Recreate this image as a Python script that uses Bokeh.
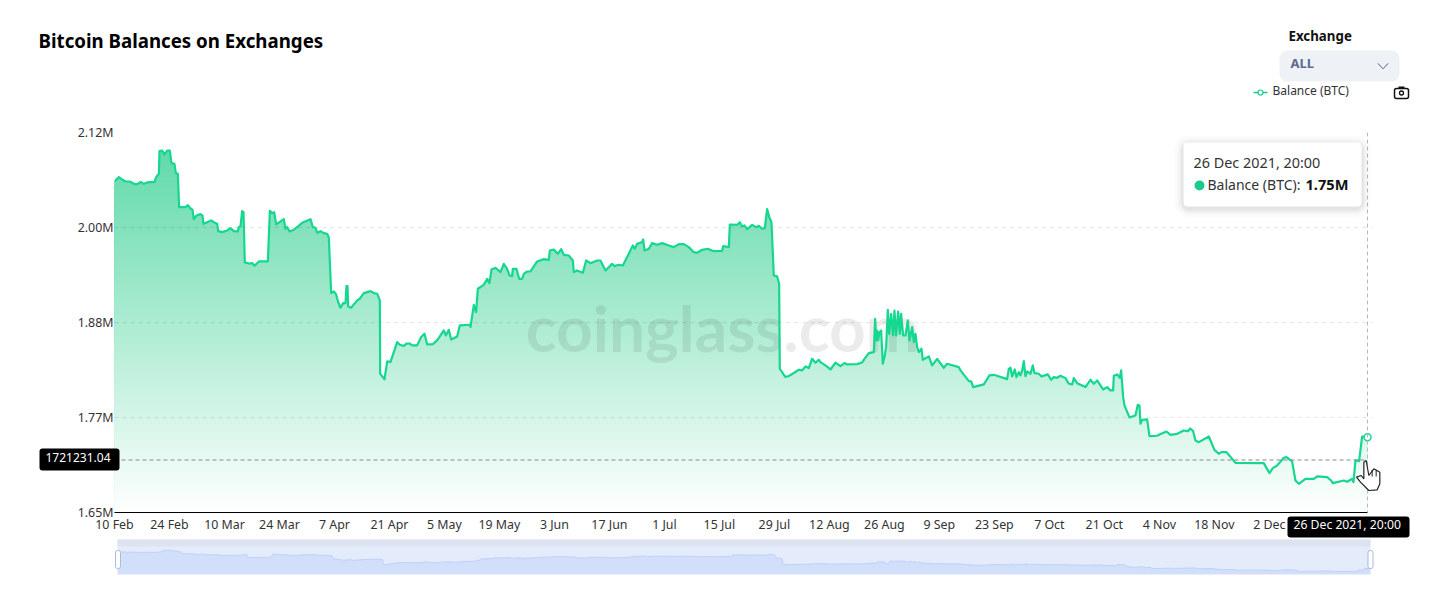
import numpy as np
from bokeh.plotting import figure
from bokeh.layouts import column
from bokeh.models import BoxAnnotation, FixedTicker, Label, PolyAnnotation, Range1d, Span
from bokeh.embed import file_html
from bokeh.resources import INLINE

# days since 10 Feb 2021
days = [0,1.1,1.95,2.8,3.9,5.18,5.94,6.62,7.47,8.32,10.18,10.61,11.29,11.46,12.14,12.73,13.41,14.09,14.51,15.27,15.61,16.12,16.46,18.08,18.67,19.35,19.86,20.2,20.88,21.89,22.4,22.66,24.61,25.71,26.14,26.39,27.41,28.68,29.53,30.38,31.4,31.65,32.08,32.5,32.84,33.18,34.2,35.05,35.64,36.74,39.04,39.55,40.14,
40.65,41.16,43.11,43.53,43.96,44.55,45.65,47.78,49.9,50.49,51.17,51.6,52.44,53.29,54.14,54.57,55.16,55.84,56.43,56.94,57.54,58.21,58.81,59.06,59.32,59.49,60.25,60.93,61.78,62.46,63.48,65.17,66.02,66.87,67.55,67.63,68.74,69.42,70.26,71.96,72.56,73.66,74.34,75.19,75.78,77.05,78.07,78.92,79.6,80.45,
81.04,82.14,83.84,84.35,85.11,85.71,87.23,87.91,90.46,90.63,91.48,92.07,92.5,94.02,94.87,95.47,95.98,97.0,98.27,99.11,99.96,100.56,101.24,101.41,102.34,103.02,103.78,104.21,105.06,105.9,107.6,109.3,110.57,110.83,111.84,112.86,113.71,114.39,115.66,116.68,116.94,117.78,119.23,120.08,121.18,122.88,123.72,125.0,126.69,127.29,128.39,129.41,130.51,131.96,132.47,133.06,134.33,134.59,134.93,136.03,136.88,138.15,139.42,141.12,142.39,143.67,144.94,146.21,147.49,148.33,149.61,151.05,152.41,154.7,154.95,156.4,156.65,158.52,159.2,159.79,160.38,161.06,162.34,163.35,164.03,164.88,165.56,166.15,166.75,167.26,167.85,168.7,169.21,169.38,170.82,171.67,172.95,174.22,175.07,175.91,176.76,177.61,178.46,179.31,
179.73,181.0,182.28,183.55,184.83,185.84,186.52,189.07,190.34,190.94,192.04,193.31,193.65,193.91,194.16,194.42,194.76,195.18,195.6,196.03,196.45,196.88,197.22,197.73,198.23,198.57,199,199.51,199.93,200.27,200.78,201.37,201.97,202.39,203.07,203.5,203.92,204.34,204.77,205.45,205.79,207.32,208.16,209.44,211.13,211.98,214.95,215.38,217.5,218.09,218.6,221.32,222.76,223.86,227.26,227.68,228.11,228.53,229.21,229.63,230.23,230.65,231.08,231.5,231.92,232.35,233.2,233.79,234.22,235.32,236,237.61,238.46,239.14,239.99,240.84,242.11,242.96,243.81,244.23,245.08,247.2,248.47,249.32,250.17,251.7,252.72,253.56,254.24,254.41,255.26,255.94,256.28,256.79,257.13,258.4,259.93,260.52,260.95,261.2,261.63,262.9,263.49,265.44,
266.04,267.82,268.84,270.54,272.23,273.25,273.85,274.61,275.2,276.05,278.6,280.04,281.14,281.82,283.1,285.39,292.6,294.04,294.89,295.99,297.69,298.37,299.81,300.66,301.51,303.21,305.33,306.18,308.72,309.74,310.17,312.97,313.82,315.09,315.43,315.94,316.87,317.63,319]

# balance, millions of BTC
balance = [2.0661,2.0711,2.0682,2.0657,2.0657,2.0624,2.0628,2.0653,2.0628,2.0645,2.0653,2.0711,2.0752,2.1032,2.1040,2.0991,2.1040,2.1040,2.0884,2.0875,2.0760,2.0752,2.0340,2.0340,2.0365,2.0323,2.0307,2.0191,2.0237,2.0253,2.0237,2.0134,2.0175,2.0142,2.0134,2.0043,2.0031,2.0051,2.0080,2.0043,2.0039,2.0093,2.0101,2.0290,2.0278,1.9656,1.9643,1.9648,1.9615,1.9668,1.9668,2.0295,2.0266,
2.0278,2.0126,2.0191,2.0072,2.0093,2.0039,2.0060,2.0146,2.0191,2.0093,2.0084,2.0023,2.0043,2.0018,2.0010,1.9961,1.9277,1.9297,1.9260,1.9166,1.9096,1.9153,1.9153,1.9363,1.9363,1.9112,1.9096,1.9137,1.9186,1.9207,1.9277,1.9301,1.9277,1.9269,1.9186,1.8280,1.8210,1.8432,1.8424,1.8671,1.8642,1.8622,1.8651,1.8651,1.8630,1.8630,1.8733,1.8774,1.8642,1.8642,
1.8646,1.8692,1.8815,1.8753,1.8823,1.8704,1.8741,1.8877,1.8885,1.8857,1.9132,1.9041,1.9330,1.9379,1.9453,1.9400,1.9569,1.9590,1.9536,1.9639,1.9577,1.9495,1.9487,1.9577,1.9577,1.9453,1.9453,1.9515,1.9544,1.9544,1.9668,1.9697,1.9688,1.9804,1.9816,1.9763,1.9820,1.9750,1.9742,1.9680,1.9536,1.9557,1.9528,1.9680,1.9647,1.9680,1.9680,1.9557,1.9639,1.9610,1.9627,1.9618,1.9722,1.9866,1.9825,1.9886,1.9907,1.9940,1.9804,1.9825,1.9895,1.9874,1.9895,1.9866,1.9845,1.9882,1.9882,1.9845,1.9783,1.9775,1.9812,1.9825,1.9796,1.9800,1.9858,1.9845,2.0125,2.0121,2.0154,2.0100,2.0113,2.0068,2.0121,2.0092,2.0109,2.0072,2.0080,2.0315,2.0208,2.0154,1.9495,1.9483,1.9392,1.8341,1.8238,1.8251,1.8288,1.8329,1.8321,1.8370,1.8350,1.8465,1.8415,1.8452,
1.8423,1.8382,1.8332,1.8415,1.8374,1.8411,1.8394,1.8398,1.8419,1.8464,1.8534,1.8546,1.8958,1.8691,1.8814,1.8691,1.8794,1.8814,1.8402,1.8485,1.8608,1.9070,1.8773,1.9020,1.8752,1.9061,1.8752,1.9049,1.8773,1.9020,1.8752,1.8752,1.8938,1.8691,1.8855,1.8670,1.8773,1.8608,1.8546,1.8588,1.8452,1.8493,1.8382,1.8464,1.8353,1.8402,1.8361,1.8320,1.8188,1.8184,1.8114,1.8147,1.8258,1.8266,1.8213,1.8340,1.8353,1.8246,1.8332,1.8237,1.8299,1.8258,1.8320,1.8435,1.8250,1.8308,1.8279,1.8382,1.8287,1.8279,1.8246,1.8271,1.8205,1.8237,1.8229,1.8254,1.8225,1.8155,1.8147,1.8225,1.8163,1.8114,1.8205,1.8155,1.8196,1.8085,1.8114,1.8073,1.8073,1.8254,1.8271,1.8229,1.8320,1.7990,1.7887,1.7739,1.7764,1.7895,1.7887,1.7661,1.7710,1.7714,1.7508,1.7512,
1.7528,1.7565,1.7524,1.7536,1.7577,1.7569,1.7602,1.7569,1.7454,1.7433,1.7503,1.7338,1.7289,1.7310,1.7310,1.7178,1.7174,1.7050,1.7112,1.7145,1.7240,1.7248,1.7194,1.6959,1.6918,1.6980,1.6980,1.7009,1.7001,1.6959,1.6926,1.6959,1.6943,1.6980,1.6939,1.7207,1.7198,1.7503,1.7495]

x_tick_days = [0,14,28,42,56,70,84,98,112,126,140,154,168,182,196,210,224,238,252,266,280,294]
x_tick_labels = ["10 Feb","24 Feb","10 Mar","24 Mar","7 Apr","21 Apr","5 May","19 May","3 Jun","17 Jun","1 Jul","15 Jul","29 Jul","12 Aug","26 Aug","9 Sep","23 Sep","7 Oct","21 Oct","4 Nov","18 Nov","2 Dec"]
y_ticks = [1.6563,1.7738,1.8913,2.0088,2.1263]
y_tick_labels = ["1.65M","1.77M","1.88M","2.00M","2.12M"]
pointer_value = 1721231.04 / 1e6
FONT = "Noto Sans"
days_a, bal_a = np.array(days, float), np.array(balance, float)
last_day = days[-1]

p = figure(width=1452, height=538, output_backend="svg", toolbar_location=None, frame_align=False,
           x_range=Range1d(0, last_day + 5 * last_day / 1253), y_range=Range1d(y_ticks[0], y_ticks[-1]),
           min_border_left=114, min_border_right=80, min_border_top=132, min_border_bottom=26,
           background_fill_color="white", border_fill_color="white", outline_line_color=None)
p.xgrid.visible = False
p.ygrid.ticker = FixedTicker(ticks=y_ticks)
p.ygrid.grid_line_color = "#000000"
p.ygrid.grid_line_alpha = 0.1
p.ygrid.grid_line_dash = "4 4"
p.ygrid.bounds = (0, last_day)
p.xaxis.ticker = FixedTicker(ticks=x_tick_days)
p.xaxis.major_label_overrides = dict(zip(x_tick_days, x_tick_labels))
p.xaxis.bounds = (0, last_day)
p.yaxis.ticker = FixedTicker(ticks=y_ticks)
p.yaxis.major_label_overrides = dict(zip(y_ticks, y_tick_labels))
for ax in (p.xaxis, p.yaxis):
    ax.major_tick_line_color = None
    ax.minor_tick_line_color = None
    ax.major_tick_in = 0
    ax.major_tick_out = 0
    ax.minor_tick_out = 0
    ax.major_label_text_font = FONT
    ax.major_label_text_font_size = "12.4px"
    ax.major_label_text_color = "#333333"
p.yaxis.axis_line_color = None
p.yaxis.major_label_standoff = 1
p.xaxis.axis_line_color = "#000000"
p.xaxis.axis_line_width = 1
p.xaxis.major_label_standoff = 3

# vertical gradient under the line, painted from the top down
top_c, bot_c = np.array([98, 218, 170]), np.array([255, 255, 255])
levels = np.linspace(bal_a.max(), y_ticks[0], 91)[:-1]
for i, lev in enumerate(levels):
    c = top_c + (bot_c - top_c) * i / len(levels)
    p.varea(days_a, y1=y_ticks[0], y2=np.minimum(bal_a, lev),
            fill_color="#%02x%02x%02x" % tuple(int(round(k)) for k in c), level="image")

p.add_layout(Label(x=722 - 114, y=512 - 327, x_units="screen", y_units="screen", text="coinglass.com",
                   text_font="Lato", text_font_style="bold", text_font_size="64px", text_align="center",
                   text_baseline="middle", text_color="#000000", text_alpha=0.08, level="underlay"))

p.line(days_a, bal_a, line_color="#16D78F", line_width=2.2, line_join="round")
p.line([0, last_day], [pointer_value, pointer_value], line_color="#888888", line_dash="4 3", line_width=1)
p.add_layout(Span(location=last_day, dimension="height", line_color="#B4B8C6", line_dash="4 3", line_width=1))
p.scatter(days_a[-1:], bal_a[-1:], size=7, marker="circle", fill_color="white", line_color="#16D78F", line_width=1.5)

# overview strip
mini = figure(width=1452, height=42, output_backend="svg", toolbar_location=None, frame_align=False,
              x_range=Range1d(0, last_day), y_range=Range1d(1.634, 2.312),
              x_axis_type=None, y_axis_type=None, outline_line_color=None,
              min_border_left=117, min_border_right=82, min_border_top=1, min_border_bottom=6,
              background_fill_color="#E4ECFC", border_fill_color="white")
mini.grid.visible = False
mini.varea(days_a, y1=1.634, y2=bal_a, fill_color="#D2DFFB")
mini.line(days_a, bal_a, line_color="#BFD0F5", line_width=1)

# transparent sheet over the whole page for the title, legend, tooltip and pointer labels
sheet = figure(width=1452, height=604, output_backend="svg", toolbar_location=None, frame_align=False,
               x_range=Range1d(0, 1452), y_range=Range1d(0, 604), x_axis_type=None, y_axis_type=None,
               outline_line_color=None, min_border=0, background_fill_alpha=0, border_fill_alpha=0,
               margin=(-580, 0, 0, 0))
sheet.grid.visible = False
def Y(py): return 604 - py

def box(l, t, r, b, fill, line=None, radius=0, alpha=1.0, lw=1):
    sheet.add_layout(BoxAnnotation(left=l, right=r, top=Y(t), bottom=Y(b),
                         left_units="screen", right_units="screen", top_units="screen", bottom_units="screen",
                         fill_color=fill, fill_alpha=alpha, line_color=line, line_alpha=1, line_width=lw,
                         border_radius=radius, editable=False))

def txt(s, px, py, size, color="#333333", bold=False):
    sheet.add_layout(Label(x=px - 1, y=Y(py - 1.5), x_units="screen", y_units="screen", text=s, text_font=FONT,
                       text_font_size=size, text_color=color, text_align="left", text_baseline="middle",
                       text_font_style="bold" if bold else "normal"))

def poly(points, fill=None, line="#000000", lw=1):
    sheet.add_layout(PolyAnnotation(xs=[a for a, b in points], ys=[Y(b) for a, b in points],
                                xs_units="screen", ys_units="screen", fill_color=fill, fill_alpha=1 if fill else 0,
                                line_color=line, line_alpha=1, line_width=lw, editable=False))

txt("Bitcoin Balances on Exchanges", 39, 41, "18.7px", "#000000", True)
txt("Exchange", 1289, 37, "13.3px", "#111111", True)
box(1279, 50, 1399, 81, "#EEF1F5", radius=8)
txt("ALL", 1291, 64, "13px", "#5C6B8F", True)
poly([(1377.5, 63), (1382.5, 68.5), (1387.5, 63), (1382.5, 68.5)], line="#7F8AA0")

# legend
box(1253, 91.3, 1267, 92.7, "#1BCB8C")
box(1257.5, 89.5, 1262.5, 94.5, "white", "#1BCB8C", radius=3, lw=1.2)
txt("Balance (BTC)", 1273, 91.5, "12px", "#333333")
# camera icon
box(1394, 88, 1408, 98, "white", "#111111", radius=2, lw=1.5)
box(1398, 86, 1404, 88, "#111111")
box(1399, 90.5, 1403, 94.5, "white", "#111111", radius=2, lw=1.3)

# tooltip
for grow, a in ((9, 0.015), (6, 0.02), (4, 0.03), (2, 0.04)):
    box(1183 - grow, 142 - grow + 2, 1361 + grow, 206 + grow + 2, "#000000", radius=6 + grow, alpha=a)
box(1183, 142, 1361, 206, "white", radius=4)
txt("26 Dec 2021, 20:00", 1194, 163.5, "14.4px", "#333333")
box(1194, 180, 1204, 190, "#1BCB8C", radius=5)
txt("Balance (BTC):", 1208, 185, "14px", "#333333")
txt("1.75M", 1306, 185, "14.6px", "#111111", True)

# hand cursor
hand = [(737, 180), (745, 225), (760, 205), (778, 215), (778, 250), (770, 268), (745, 270), (720, 245),
        (708, 230), (722, 225), (730, 235), (730, 185)]
poly([(1120 + a / 3, 400 + b / 3) for a, b in hand], fill="white", line="#222222", lw=1.2)
for a in (755, 767):
    poly([(1120 + a / 3, 400 + 208 / 3), (1120 + a / 3, 400 + 228 / 3)], line="#222222", lw=1)

# axis pointer labels
box(39, 448, 119, 470, "#000000", radius=3)
txt("1721231.04", 46, 458, "12px", "#FFFFFF")
box(1287, 516, 1409, 537, "#000000", radius=3)
txt("26 Dec 2021, 20:00", 1294, 525, "12.2px", "#FFFFFF")

# overview strip furniture
box(117, 539, 1370, 546, "#DDE3EF")
box(115, 550, 120, 568, "white", "#ABBBDB", radius=2)
box(1367.5, 550, 1372.5, 568, "white", "#ABBBDB", radius=2)

open("out.html", "w").write(file_html(column(p, mini, sheet, spacing=0), INLINE))
